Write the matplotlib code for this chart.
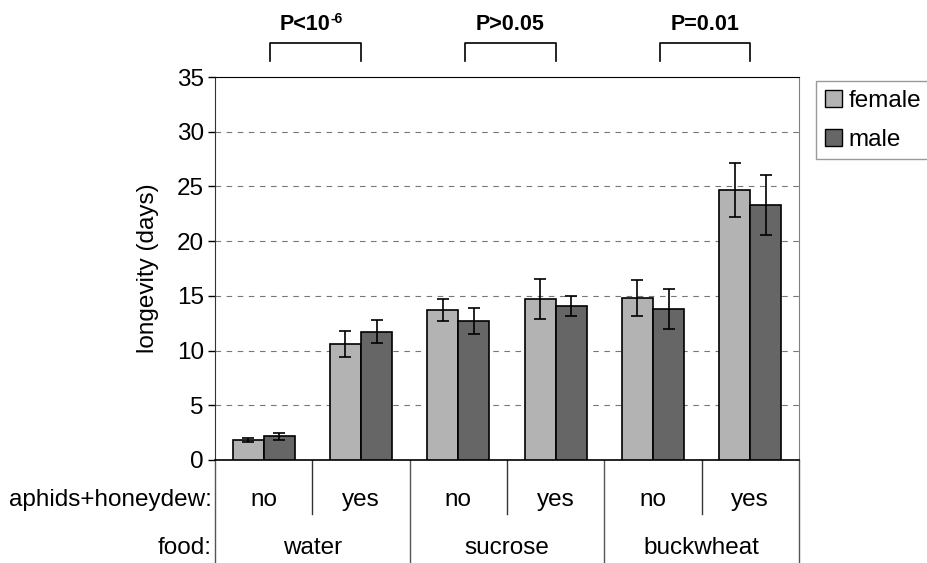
import matplotlib
matplotlib.use("Agg")
import matplotlib.pyplot as plt
import matplotlib.transforms as mtransforms
from matplotlib.patches import Patch
from matplotlib.lines import Line2D
import numpy as np

plt.rcParams['font.family'] = ['Liberation Sans', 'DejaVu Sans']

# dados
honeydew = ["no", "yes", "no", "yes", "no", "yes"]
food = ["water", "sucrose", "buckwheat"]
female = [1.8, 10.6, 13.7, 14.7, 14.8, 24.7]
female_err = [0.2, 1.2, 1.0, 1.8, 1.65, 2.45]
male = [2.15, 11.7, 12.7, 14.1, 13.8, 23.3]
male_err = [0.3, 1.05, 1.2, 0.9, 1.8, 2.7]
p_labels = ["P<10", "P>0.05", "P=0.01"]
p_expoente = ["-6", "", ""]

cor_f = "#b3b3b3"
cor_m = "#666666"
fs = 17.5

fig = plt.figure(figsize=(9.28, 5.63), dpi=100)
ax = fig.add_axes([215/928, 1-460/563, 584/928, 383/563])

x = np.arange(len(female))
w = 0.32
ax.bar(x - w/2, female, w, color=cor_f, edgecolor="black", linewidth=1.2, zorder=3)
ax.bar(x + w/2, male, w, color=cor_m, edgecolor="black", linewidth=1.2, zorder=3)
ax.errorbar(x - w/2, female, yerr=female_err, fmt="none", ecolor="black",
            elinewidth=1.2, capsize=4.5, capthick=1.2, zorder=4)
ax.errorbar(x + w/2, male, yerr=male_err, fmt="none", ecolor="black",
            elinewidth=1.2, capsize=4.5, capthick=1.2, zorder=4)

ax.set_xlim(-0.5, 5.5)
ax.set_ylim(0, 35)
ax.set_yticks(range(0, 36, 5))
ax.tick_params(axis="y", labelsize=fs, length=5, width=1, direction="out", pad=3)
ax.set_xticks([])
for v in range(5, 35, 5):
    ax.axhline(v, color="#777777", linestyle=(0, (5, 5)), linewidth=0.8, zorder=1)

ax.spines["top"].set_color("black")
ax.spines["right"].set_color("#808080")
ax.spines["left"].set_color("#333333")
ax.spines["bottom"].set_color("black")
ax.spines["bottom"].set_linewidth(1.2)

fig.text(148/928, 1-268/563, "longevity (days)", rotation=90, ha="center",
         va="center", fontsize=fs)

# tabela de categorias embaixo
trans = mtransforms.blended_transform_factory(ax.transData, ax.transAxes)
for i, h in enumerate(honeydew):
    ax.text(i, -40/383, h, transform=trans, ha="center", va="center", fontsize=fs)
for g, f in enumerate(food):
    ax.text(2*g + 0.5, -88/383, f, transform=trans, ha="center", va="center", fontsize=fs)
for b in [0.5, 2.5, 4.5]:
    ax.add_line(Line2D([b, b], [0, -54/383], transform=trans, color="#333333",
                       linewidth=1, clip_on=False))
for b in [-0.5, 1.5, 3.5, 5.5]:
    ax.add_line(Line2D([b, b], [0, -103/383], transform=trans, color="#555555",
                       linewidth=1, clip_on=False))
ax.text(-0.53, -40/383, "aphids+honeydew:", transform=trans, ha="right", va="center", fontsize=fs)
ax.text(-0.53, -88/383, "food:", transform=trans, ha="right", va="center", fontsize=fs)

# colchetes com valores de P
for g, lab in enumerate(p_labels):
    x0 = 2*g + 0.07
    x1 = 2*g + 1.0
    ax.add_line(Line2D([x0, x0, x1, x1], [1 + 16/383, 1 + 34/383, 1 + 34/383, 1 + 16/383],
                       transform=trans, color="black", linewidth=1.2, clip_on=False))
    if p_expoente[g]:
        xm = (x0 + x1)/2 + 0.15
        ax.text(xm, 1 + 52/383, lab, transform=trans, ha="right", va="center",
                fontsize=15.5, fontweight="bold")
        ax.text(xm, 1 + 58/383, p_expoente[g], transform=trans, ha="left", va="center",
                fontsize=10, fontweight="bold")
    else:
        ax.text((x0 + x1)/2, 1 + 52/383, lab, transform=trans, ha="center", va="center",
                fontsize=15.5, fontweight="bold")

handles = [Patch(facecolor=cor_f, edgecolor="black", label="female"),
           Patch(facecolor=cor_m, edgecolor="black", label="male")]
leg = fig.legend(handles=handles, loc="upper left", bbox_to_anchor=(816/928, 1-81/563),
                 fontsize=fs, frameon=True, fancybox=False, edgecolor="#808080",
                 handlelength=0.7, handleheight=0.7, handletextpad=0.3,
                 borderpad=0.35, labelspacing=0.7, borderaxespad=0)
leg.get_frame().set_linewidth(1)

fig.savefig("out.png", dpi=100)
